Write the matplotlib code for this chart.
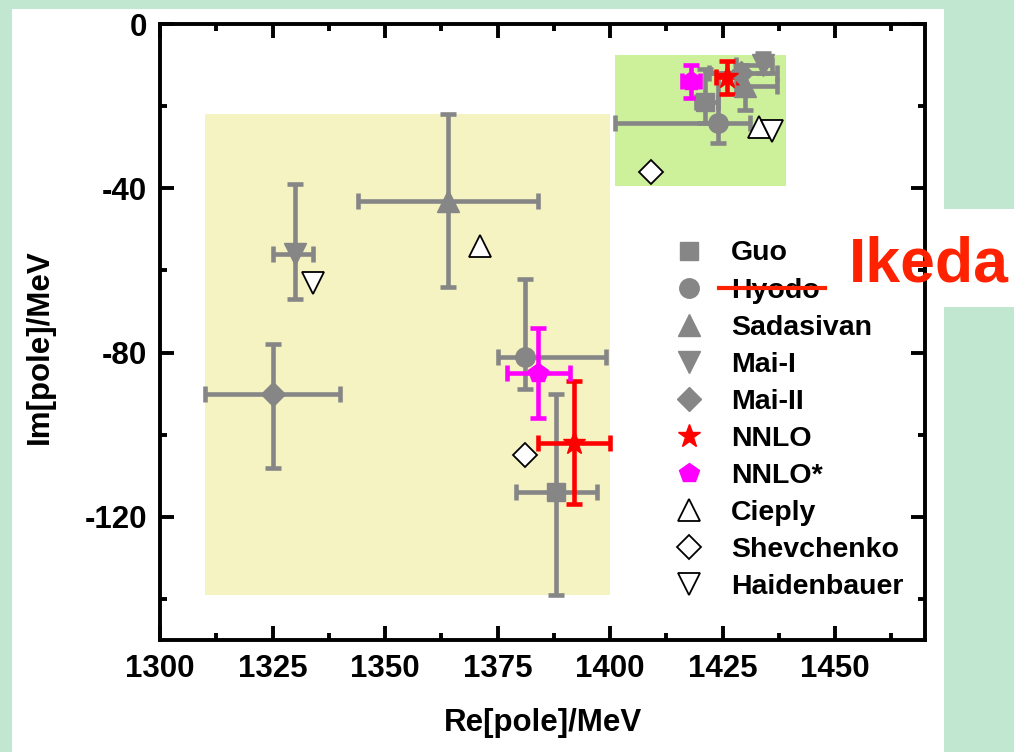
import matplotlib
matplotlib.use("Agg")
import matplotlib.pyplot as plt
from matplotlib.lines import Line2D
from matplotlib.patches import Rectangle

plt.rcParams['font.family'] = ['Liberation Sans', 'DejaVu Sans']
plt.rcParams['font.weight'] = 'bold'
plt.rcParams['axes.unicode_minus'] = False

# shaded regions (Re range, Im range)
zone_re = [(1310, 1400), (1401, 1439)]
zone_im = [(-139, -22), (-39.5, -7.5)]
zone_colors = ['#f6f3c2', '#cdf09b']

# pole positions [lower pole, upper pole], errors as (minus, plus)
guo_re = [1388, 1421]
guo_im = [-114, -19]
guo_re_err = [[9, 2], [9, 3]]
guo_im_err = [[25, 5], [24, 8]]

hyodo_re = [1381, 1424]
hyodo_im = [-81, -24]
hyodo_re_err = [[6, 23], [18, 7]]
hyodo_im_err = [[8, 5], [19, 12]]

sadasivan_re = [1364, 1430]
sadasivan_im = [-43, -15]
sadasivan_re_err = [[20, 2], [20, 7]]
sadasivan_im_err = [[21, 6], [21, 3]]

mai1_re = [1330, 1434]
mai1_im = [-56, -10]
mai1_re_err = [[5, 6], [4, 2]]
mai1_im_err = [[11, 2], [17, 3]]

mai2_re = [1325, 1429]
mai2_im = [-90, -12]
mai2_re_err = [[15, 7], [15, 8]]
mai2_im_err = [[18, 3], [12, 2]]

nnlo_re = [1392, 1426]
nnlo_im = [-102, -13]
nnlo_re_err = [[8, 2.5], [8, 2.5]]
nnlo_im_err = [[15, 4], [15, 4]]

nnlo2_re = [1384, 1418]
nnlo2_im = [-85, -14]
nnlo2_re_err = [[7, 2], [7, 2]]
nnlo2_im_err = [[11, 4], [11, 4]]

cieply_re = [1371, 1433]
cieply_im = [-54, -25]
shev_re = [1381, 1409]
shev_im = [-105, -36]
haiden_re = [1334, 1436]
haiden_im = [-63, -26]

GREY = '#868686'
W, H = 1014, 752

fig = plt.figure(figsize=(W / 100, H / 100), dpi=100, facecolor='#c2e7d1')
fig.add_artist(Rectangle((12 / W, 0), (944 - 12) / W, (H - 9) / H, transform=fig.transFigure,
                         facecolor='white', edgecolor='none', zorder=-2))
fig.add_artist(Rectangle((944 / W, (H - 307) / H), 70 / W, 98 / H, transform=fig.transFigure,
                         facecolor='white', edgecolor='none', zorder=-2))

ax = fig.add_axes([160 / W, (H - 640) / H, 765 / W, 616 / H])
ax.set_facecolor('white')

for (x0, x1), (y0, y1), c in zip(zone_re, zone_im, zone_colors):
    ax.add_patch(Rectangle((x0, y0), x1 - x0, y1 - y0, facecolor=c, edgecolor='none', zorder=0))

eb = dict(linestyle='none', elinewidth=3.3, capsize=5.5, capthick=3.3, zorder=3)

ax.errorbar(guo_re, guo_im, xerr=guo_re_err, yerr=guo_im_err, fmt='s', ms=13,
            color=GREY, **eb)
ax.errorbar(hyodo_re, hyodo_im, xerr=hyodo_re_err, yerr=hyodo_im_err, fmt='o', ms=14,
            color=GREY, **eb)
ax.errorbar(sadasivan_re, sadasivan_im, xerr=sadasivan_re_err, yerr=sadasivan_im_err,
            fmt='^', ms=16, color=GREY, **eb)
ax.errorbar(mai1_re, mai1_im, xerr=mai1_re_err, yerr=mai1_im_err, fmt='v', ms=16,
            color=GREY, **eb)
ax.errorbar(mai2_re, mai2_im, xerr=mai2_re_err, yerr=mai2_im_err, fmt='D', ms=12,
            color=GREY, **eb)
ax.errorbar(nnlo_re, nnlo_im, xerr=nnlo_re_err, yerr=nnlo_im_err, fmt='*', ms=17,
            color='#ff0000', **eb)
ax.errorbar(nnlo2_re, nnlo2_im, xerr=nnlo2_re_err, yerr=nnlo2_im_err, fmt='p', ms=15,
            color='#ff00ff', **eb)

op = dict(linestyle='none', mfc='white', mec='black', mew=1.3, zorder=4)
ax.plot(cieply_re, cieply_im, marker='^', ms=16, **op)
ax.plot(shev_re, shev_im, marker='D', ms=12, **op)
ax.plot(haiden_re, haiden_im, marker='v', ms=16, **op)

ax.set_xlim(1300, 1470)
ax.set_ylim(-150, 0)
ax.tick_params(which='both', direction='in', top=True, right=True, width=2.8, labelsize=22.5)
ax.tick_params(which='major', length=10)
ax.tick_params(which='minor', length=5)
ax.tick_params(axis='x', pad=10)
ax.tick_params(axis='y', pad=9.5)
ax.set_xticks([1300, 1325, 1350, 1375, 1400, 1425, 1450])
ax.set_yticks([0, -40, -80, -120])
ax.set_xticks([1312.5 + 25 * i for i in range(7)], minor=True)
ax.set_yticks([-20, -60, -100, -140], minor=True)
for s in ax.spines.values():
    s.set_linewidth(2.8)

ax.set_xlabel('Re[pole]/MeV', fontsize=22.5, fontweight='bold')
ax.set_ylabel('Im[pole]/MeV', fontsize=22.5, fontweight='bold')
ax.xaxis.label.set_va('center')
ax.yaxis.label.set_va('center')
ax.xaxis.set_label_coords(0.5, -0.135)
ax.yaxis.set_label_coords(-0.157, 0.476)

labels = ['Guo', 'Hyodo', 'Sadasivan', 'Mai-I', 'Mai-II', 'NNLO', 'NNLO*',
          'Cieply', 'Shevchenko', 'Haidenbauer']
handles = [
    Line2D([], [], ls='none', marker='s', ms=13, color=GREY),
    Line2D([], [], ls='none', marker='o', ms=14, color=GREY),
    Line2D([], [], ls='none', marker='^', ms=16, color=GREY),
    Line2D([], [], ls='none', marker='v', ms=16, color=GREY),
    Line2D([], [], ls='none', marker='D', ms=12, color=GREY),
    Line2D([], [], ls='none', marker='*', ms=17, color='#ff0000'),
    Line2D([], [], ls='none', marker='p', ms=15, color='#ff00ff'),
    Line2D([], [], ls='none', marker='^', ms=16, mfc='white', mec='black', mew=1.3),
    Line2D([], [], ls='none', marker='D', ms=12, mfc='white', mec='black', mew=1.3),
    Line2D([], [], ls='none', marker='v', ms=16, mfc='white', mec='black', mew=1.3),
]
ax.legend(handles, labels, loc='upper left', bbox_to_anchor=(674.75 / W, 1 - 240.5 / H),
          bbox_transform=fig.transFigure, frameon=False, borderpad=0, borderaxespad=0,
          handlelength=1.0, handletextpad=0.97, labelspacing=0.39,
          prop=dict(size=20.5, weight='bold'))

# annotation: strike out Hyodo, write Ikeda
fig.add_artist(Line2D([719 / W, 825 / W], [1 - 288 / H] * 2, transform=fig.transFigure,
                      color='#ff2200', lw=3, zorder=10))
fig.text(849 / W, 1 - 282 / H, 'Ikeda', color='#ff2200', fontsize=45, fontweight='bold',
         ha='left', va='baseline', zorder=10)

fig.savefig('out.png', dpi=100, facecolor=fig.get_facecolor())
